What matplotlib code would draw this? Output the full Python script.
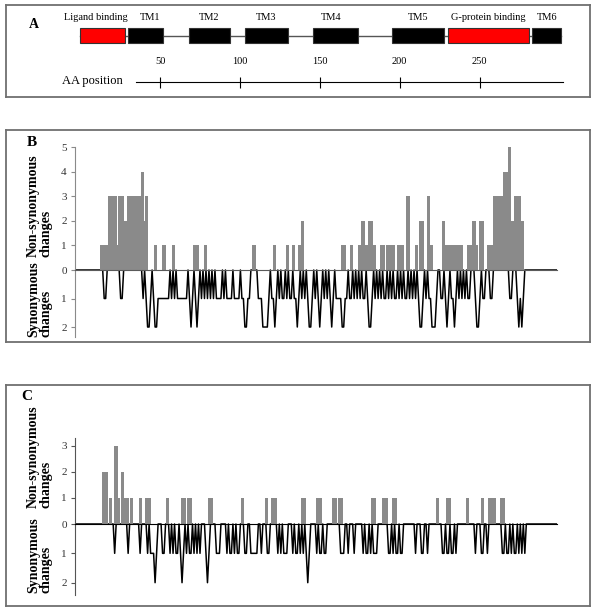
import numpy as np
import matplotlib.pyplot as plt
from matplotlib.patches import Rectangle

plt.rcParams['font.family'] = ['Liberation Serif', 'DejaVu Serif']

# Panel A: receptor domains along the amino-acid sequence
domain_names = ['Ligand binding', 'TM1', 'TM2', 'TM3', 'TM4', 'TM5',
                'G-protein binding', 'TM6']
domain_start = [0, 30, 68, 103, 146, 195, 230, 283]
domain_end = [28, 52, 94, 130, 174, 228, 281, 301]
domain_color = ['#ff0000', 'black', 'black', 'black', 'black', 'black',
                '#ff0000', 'black']
aa_ticks = [50, 100, 150, 200, 250]
aa_axis = [35, 302]

# Panels B and C: changes per codon site
n_sites = 322

# non-synonymous changes as runs: sites [start, stop) share one count
ns_b_start = [17, 22, 28, 29, 33, 35, 44, 46, 47, 53, 58, 65, 79, 86,
              118, 132, 141, 145, 149, 151, 178, 184, 189, 191, 194, 196, 199,
              204, 208, 215, 221, 227, 230, 235, 237, 245, 247, 262, 265, 268,
              270, 275, 279, 286, 289, 291, 293, 298]
ns_b_stop = [22, 28, 29, 33, 35, 44, 46, 47, 49, 55, 61, 67, 83, 88,
             121, 134, 143, 147, 151, 153, 181, 186, 191, 194, 196, 199, 201,
             207, 214, 220, 224, 229, 233, 237, 239, 247, 259, 265, 268, 269,
             273, 279, 286, 289, 291, 293, 298, 300]
ns_b_count = [1, 3, 1, 3, 2, 3, 4, 2, 3, 1, 1, 1, 1, 1,
              1, 1, 1, 1, 1, 2, 1, 1, 1, 2, 1, 2, 1,
              1, 1, 1, 3, 1, 2, 3, 1, 2, 1, 1, 2, 1,
              2, 1, 3, 4, 5, 2, 3, 2]

ns_c_start = [18, 23, 26, 29, 31, 33, 37, 43, 47, 61, 71, 75, 89, 111,
              127, 131, 151, 161, 172, 176, 198, 205, 212, 241, 248, 261,
              271, 276, 284]
ns_c_stop = [22, 25, 29, 30, 33, 36, 39, 45, 51, 63, 74, 78, 92, 113,
             129, 135, 154, 165, 175, 179, 201, 209, 215, 243, 251, 263,
             273, 281, 287]
ns_c_count = [2, 1, 3, 1, 2, 1, 1, 1, 1, 1, 1, 1, 1, 1,
              1, 1, 1, 1, 1, 1, 1, 1, 1, 1, 1, 1,
              1, 1, 1]

# synonymous changes: (first site, one digit per site); other sites are 0
syn_b_chunks = [(19, "11"), (30, "11"), (45, "1012210122"), (55, "11111111"),
                (63, "010101"), (69, "111111"), (75, "012101210"),
                (84, "10101010101"), (95, "1110101111011110"), (111, "112211"),
                (122, "111222210"), (131, "11210"), (136, "1011010110"),
                (146, "112101010"), (155, "12210"), (160, "101210101012"),
                (172, "10111122110110"), (186, "10101011"), (194, "012210"),
                (200, "10101011010101101010110101010"),
                (229, "122101011222100"), (244, "11012101121010101011000"),
                (267, "1221011000110"), (290, "11000"), (295, "12121")]

syn_c_chunks = [(26, "1"), (35, "1"), (43, "1"), (48, "10111210"), (57, "0110"),
                (63, "101011"), (70, "121"), (73, "01011010101"), (86, "0121"),
                (94, "111"), (101, "1011010110"), (113, "11"), (117, "11111"),
                (124, "1"), (128, "11"), (135, "101"), (139, "111"),
                (145, "10110101"), (154, "121"), (161, "1011011"), (177, "111"),
                (182, "1"), (186, "1"), (192, "1011010111"), (209, "1101011011"),
                (227, "1"), (231, "11"), (235, "1"), (245, "1101101101"),
                (267, "1"), (271, "11"), (275, "1"), (285, "11011010110101"),
                (300, "1")]


def runs_to_sites(starts, stops, counts):
    v = np.zeros(n_sites)
    for a, b, c in zip(starts, stops, counts):
        v[a:b] = c
    return v


def chunks_to_sites(chunks):
    v = np.zeros(n_sites)
    for start, digits in chunks:
        for i, d in enumerate(digits):
            v[start + i] = int(d)
    return v


W, H = 600, 608
fig = plt.figure(figsize=(6.0, 6.08), dpi=100)


def px_axes(x0, y0, x1, y1):
    return fig.add_axes([x0 / W, 1 - y1 / H, (x1 - x0) / W, (y1 - y0) / H])


def frame(y0, y1):
    ax = px_axes(6, y0, 590, y1)
    ax.set_xticks([])
    ax.set_yticks([])
    for s in ax.spines.values():
        s.set_color('#707070')
        s.set_linewidth(1.3)
    return ax


def fig_text(x, y, s, **kw):
    fig.text(x / W, 1 - y / H, s, **kw)


def draw_changes(ns, syn, y_top, y_zero, y_bottom, ns_lim, ns_ticks,
                 syn_lim, axis_color, zero_color):
    ax_s = px_axes(75, y_zero, 557, y_bottom)
    ax_n = px_axes(75, y_top, 557, y_zero)
    x = np.arange(n_sites)
    ax_n.bar(x, ns, width=1.0, color='#8a8a8a', linewidth=0)
    ax_s.plot(x, syn, color='black', lw=1.1, clip_on=False)
    for ax in (ax_n, ax_s):
        ax.set_xlim(-0.5, n_sites - 0.5)
        ax.patch.set_visible(False)
        ax.set_xticks([])
        ax.spines['top'].set_visible(False)
        ax.spines['right'].set_visible(False)
        ax.spines['left'].set_color(axis_color)
        ax.tick_params(axis='y', length=3, width=0.8, color=axis_color,
                       labelsize=8, labelcolor='#333333', pad=3)
    ax_n.set_ylim(0, ns_lim)
    ax_n.set_yticks(ns_ticks)
    ax_n.spines['bottom'].set_color(zero_color)
    ax_s.spines['bottom'].set_visible(False)
    ax_s.set_ylim(syn_lim, 0)
    ax_s.set_yticks([1, 2])


# ---- Panel A ----
axA = frame(5, 97)
axA.set_xlim((6 - 80.1) / 1.598, (590 - 80.1) / 1.598)
axA.set_ylim(97, 5)
axA.plot([domain_start[0], domain_end[-1]], [35.5, 35.5], color='#555555', lw=1)
label_shift = [-4, 3, 0, 0, -3, 0, 0, 0]
for name, s, e, c, d in zip(domain_names, domain_start, domain_end,
                            domain_color, label_shift):
    axA.add_patch(Rectangle((s, 28), e - s, 15, facecolor=c,
                            edgecolor='#333333', lw=0.8, zorder=3))
    axA.text((s + e) / 2 + d, 17, name, ha='center', va='center', fontsize=7.5)
axA.plot(aa_axis, [82, 82], color='black', lw=0.8)
axA.vlines(aa_ticks, 77, 88, color='black', lw=0.8)
for t in aa_ticks:
    axA.text(t, 61, str(t), ha='center', va='center', fontsize=7.5)
fig_text(92, 81, 'AA position', ha='center', va='center', fontsize=9)
fig_text(34, 25, 'A', ha='center', va='center', fontsize=10, fontweight='bold')

# ---- Panel B ----
frame(130, 342)
draw_changes(runs_to_sites(ns_b_start, ns_b_stop, ns_b_count),
             chunks_to_sites(syn_b_chunks),
             147, 270, 337, 5.02, [0, 1, 2, 3, 4, 5], 2.35,
             '#8a8a8a', '#5a5a5a')
fig_text(32, 143, 'B', ha='center', va='center', fontsize=11, fontweight='bold')
fig_text(40, 257, 'Non-synonymous\nchanges', rotation=90, ha='center',
         va='bottom', multialignment='left', fontsize=10, fontweight='bold',
         linespacing=0.95)
fig_text(40, 337, 'Synonymous\nchanges', rotation=90, ha='center',
         va='bottom', multialignment='left', fontsize=10, fontweight='bold',
         linespacing=0.95)

# ---- Panel C ----
frame(385, 606)
draw_changes(runs_to_sites(ns_c_start, ns_c_stop, ns_c_count),
             chunks_to_sites(syn_c_chunks),
             438, 524, 595, 3.3, [0, 1, 2, 3], 2.42,
             '#555555', 'black')
fig_text(27, 396, 'C', ha='center', va='center', fontsize=11, fontweight='bold')
fig_text(40, 508, 'Non-synonymous\nchanges', rotation=90, ha='center',
         va='bottom', multialignment='left', fontsize=10, fontweight='bold',
         linespacing=0.95)
fig_text(40, 593, 'Synonymous\nchanges', rotation=90, ha='center',
         va='bottom', multialignment='left', fontsize=10, fontweight='bold',
         linespacing=0.95)

fig.savefig('out.png', dpi=100)
